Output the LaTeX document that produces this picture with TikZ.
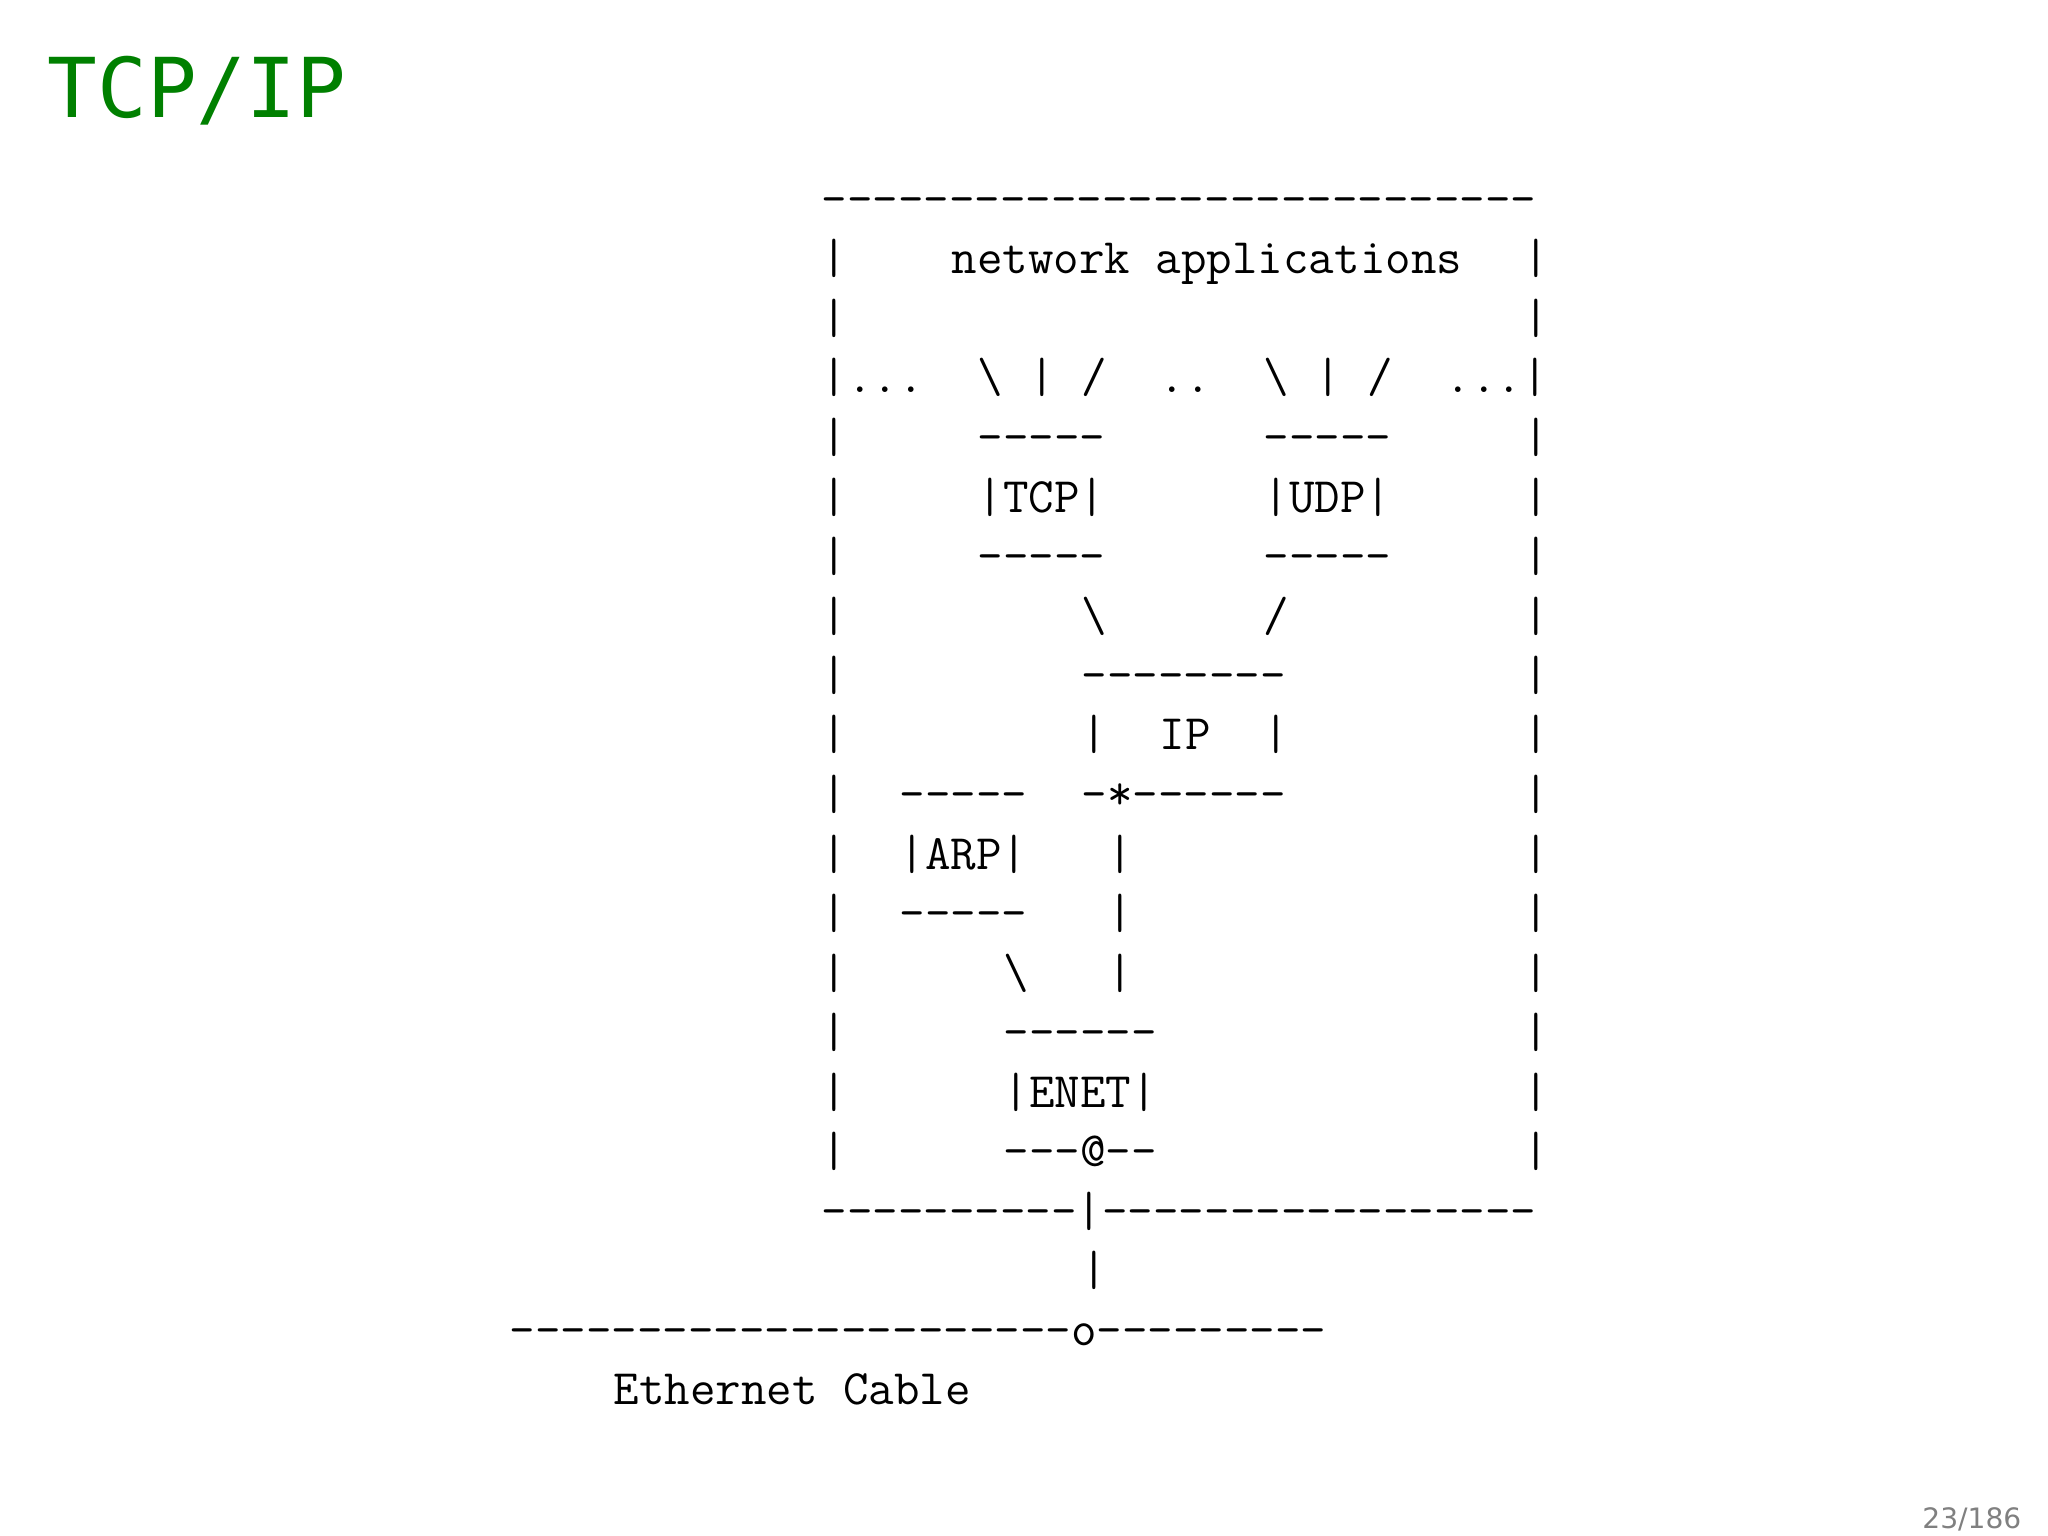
\documentclass[tikz,border=0pt]{standalone}
\usepackage{fontspec}
\newfontfamily\titlefont{DejaVu Sans Mono}
\newfontfamily\numfont{DejaVu Sans}
\definecolor{titlegreen}{RGB}{0,128,0}
\definecolor{pagegray}{RGB}{128,128,128}
\newcommand{\bs}{\char92}
\newcommand{\asc}[3]{\node[ascii] at ({5.09+#1*0.26},{-(2.145+0.595*#2)}) {#3};}
\tikzset{ascii/.style={anchor=base west,inner sep=0pt,font=\ttfamily\fontsize{14.1}{17}\selectfont}}
\begin{document}
\begin{tikzpicture}
\useasboundingbox[fill=white] (0,0) rectangle (20.48,-15.36);
\node[anchor=base west,inner sep=0pt,text=titlegreen,font=\titlefont\fontsize{23.5}{28}\selectfont] (title) at (0.47,-1.18) {TCP/IP};
\node[anchor=base east,inner sep=0pt,text=pagegray,font=\numfont\fontsize{8}{9}\selectfont] (page) at (20.22,-15.28) {23/186};
% box rows (box starts at column 12)
\asc{12}{0}{----------------------------}
\asc{12}{1}{|} \asc{17}{1}{network applications} \asc{39}{1}{|}
\asc{12}{2}{|} \asc{39}{2}{|}
\asc{12}{3}{|...} \asc{18}{3}{\bs} \asc{20}{3}{|} \asc{22}{3}{/} \asc{25}{3}{..} \asc{29}{3}{\bs} \asc{31}{3}{|} \asc{33}{3}{/} \asc{36}{3}{...|}
\asc{12}{4}{|} \asc{18}{4}{-----} \asc{29}{4}{-----} \asc{39}{4}{|}
\asc{12}{5}{|} \asc{18}{5}{|TCP|} \asc{29}{5}{|UDP|} \asc{39}{5}{|}
\asc{12}{6}{|} \asc{18}{6}{-----} \asc{29}{6}{-----} \asc{39}{6}{|}
\asc{12}{7}{|} \asc{22}{7}{\bs} \asc{29}{7}{/} \asc{39}{7}{|}
\asc{12}{8}{|} \asc{22}{8}{--------} \asc{39}{8}{|}
\asc{12}{9}{|} \asc{22}{9}{|} \asc{25}{9}{IP} \asc{29}{9}{|} \asc{39}{9}{|}
\asc{12}{10}{|} \asc{15}{10}{-----} \asc{22}{10}{-*------} \asc{39}{10}{|}
\asc{12}{11}{|} \asc{15}{11}{|ARP|} \asc{23}{11}{|} \asc{39}{11}{|}
\asc{12}{12}{|} \asc{15}{12}{-----} \asc{23}{12}{|} \asc{39}{12}{|}
\asc{12}{13}{|} \asc{19}{13}{\bs} \asc{23}{13}{|} \asc{39}{13}{|}
\asc{12}{14}{|} \asc{19}{14}{------} \asc{39}{14}{|}
\asc{12}{15}{|} \asc{19}{15}{|ENET|} \asc{39}{15}{|}
\asc{12}{16}{|} \asc{19}{16}{---@--} \asc{39}{16}{|}
\asc{12}{17}{----------|-----------------}
\asc{22}{18}{|}
\asc{0}{19}{----------------------o---------}
\asc{4}{20}{Ethernet Cable}
\end{tikzpicture}
\end{document}
